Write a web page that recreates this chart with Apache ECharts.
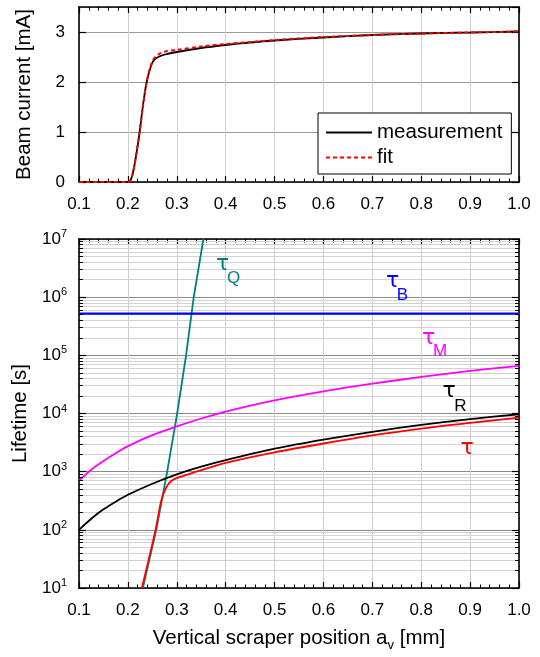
<!DOCTYPE html>
<html>
<head>
<meta charset="utf-8">
<script src="https://cdn.jsdelivr.net/npm/echarts@6/dist/echarts.min.js"></script>
<style>
  html, body { margin: 0; padding: 0; background: #fff; }
  #chart { width: 540px; height: 657px; }
</style>
</head>
<body>
<div id="chart"></div>
<script>
// beam current vs scraper position (top panel)
const currentX = [0.1, 0.15, 0.2, 0.204, 0.21, 0.217, 0.224, 0.231, 0.238, 0.245, 0.252, 0.262, 0.276, 0.3, 0.35, 0.4, 0.45, 0.5, 0.6, 0.7, 0.8, 0.9, 1.0];
const measured = [0, 0, 0, 0.01, 0.17, 0.54, 1.0, 1.54, 1.98, 2.25, 2.42, 2.50, 2.55, 2.60, 2.68, 2.74, 2.79, 2.83, 2.89, 2.94, 2.97, 2.99, 3.01];
const fitted   = [0, 0, 0, 0.01, 0.17, 0.54, 1.0, 1.54, 1.98, 2.27, 2.45, 2.55, 2.61, 2.64, 2.71, 2.76, 2.80, 2.84, 2.90, 2.94, 2.97, 2.99, 3.01];

// lifetimes (bottom panel)
const lifeX = [0.1, 0.125, 0.15, 0.175, 0.2, 0.25, 0.3, 0.35, 0.4, 0.5, 0.6, 0.7, 0.8, 0.9, 1.0];
const tauR = [100, 155, 225, 305, 400, 620, 900, 1220, 1580, 2480, 3550, 4850, 6350, 8000, 9700];
const tauM = [700, 1080, 1520, 2070, 2750, 4250, 6000, 8200, 10800, 16800, 24000, 32500, 42500, 54000, 66000];
const tauBX = [0.1, 1.0];
const tauB = [5.2e5, 5.2e5];
const tauQX = [0.2306, 0.258, 0.2804, 0.3008, 0.319, 0.3347, 0.3545];
const tauQ = [10, 100, 1000, 1e4, 1e5, 1e6, 1e7];
const tauX = [0.2286, 0.2566, 0.268, 0.278, 0.2885, 0.302, 0.32, 0.35, 0.4, 0.5, 0.6, 0.7, 0.8, 0.9, 1.0];
const tau = [10, 100, 310, 525, 690, 790, 880, 1060, 1420, 2150, 3050, 4200, 5500, 6900, 8500];

const decades = [10, 100, 1000, 1e4, 1e5, 1e6];
const minorMults = [2, 3, 4, 5, 6, 7, 8, 9];

const FONT = 'Liberation Sans, Arial, Helvetica, sans-serif';
const GREEK = 'DejaVu Sans, sans-serif';
const pairs = (xs, ys) => xs.map((x, i) => [x, ys[i]]);

const minorVals = [];
decades.forEach(d => minorMults.forEach(m => minorVals.push(m * d)));

const minorGrid = minorVals.map(v => ({ yAxis: v }));
const minorTicks = [];
minorVals.forEach(v => {
  minorTicks.push([{ coord: [0.1, v] }, { coord: [0.108, v] }]);
  minorTicks.push([{ coord: [1.0, v] }, { coord: [0.992, v] }]);
});

const xBase = (grid, pos, labels, split) => ({
  type: 'value', gridIndex: grid, position: pos,
  min: 0.1, max: 1.0, interval: 0.1,
  axisLine: { onZero: false, lineStyle: { color: '#000', width: 1.6 } },
  axisTick: { show: true, inside: true, length: 6, lineStyle: { color: '#000', width: 1.2 } },
  minorTick: { show: true, splitNumber: 5, length: 3.5, lineStyle: { color: '#000', width: 1 } },
  axisLabel: { show: labels, margin: 14, color: '#000', fontSize: 17, fontFamily: FONT,
    formatter: v => v.toFixed(1) },
  splitLine: { show: split, lineStyle: { color: '#cfcfcf', width: 1 } }
});

const label = (x, y, text, color, big) => ({
  type: 'text', x: x, y: y, z: 10,
  style: {
    text: text, fill: color,
    font: big ? '22px ' + GREEK : '17px ' + FONT,
    textAlign: 'center', textVerticalAlign: 'middle'
  }
});

const chart = echarts.init(document.getElementById('chart'), null, { renderer: 'canvas' });

const option = {
  animation: false,
  backgroundColor: '#fff',
  grid: [
    { left: 79, top: 7, width: 440, height: 175 },
    { left: 79, top: 239, width: 440, height: 349 }
  ],
  legend: {
    data: ['measurement', 'fit'],
    orient: 'vertical',
    left: 318, top: 113,
    itemWidth: 46, itemHeight: 16, itemGap: 4,
    padding: [9, 9, 6, 7],
    borderColor: '#000', borderWidth: 1,
    backgroundColor: '#fff',
    itemStyle: { opacity: 0 },
    textStyle: { fontSize: 20.5, fontFamily: FONT, color: '#000' }
  },
  xAxis: [
    xBase(0, 'bottom', true, true),
    xBase(0, 'top', false, false),
    Object.assign(xBase(1, 'bottom', true, true), {
      name: '{n|Vertical scraper position a}{sub|v}{n| [mm]}',
      nameLocation: 'middle', nameGap: 37,
      nameTextStyle: {
        color: '#000',
        rich: {
          n: { fontSize: 20.5, fontFamily: FONT, color: '#000' },
          sub: { fontSize: 13, fontFamily: FONT, color: '#000', padding: [14, 0, 0, 0] }
        }
      }
    }),
    xBase(1, 'top', false, false)
  ],
  yAxis: [
    {
      type: 'value', gridIndex: 0, position: 'left',
      min: 0, max: 3.5, interval: 1,
      name: 'Beam current [mA]', nameLocation: 'middle', nameGap: 44,
      nameTextStyle: { fontSize: 20.5, fontFamily: FONT, color: '#000' },
      axisLine: { lineStyle: { color: '#000', width: 1.6 } },
      axisTick: { show: true, inside: true, length: 7, lineStyle: { color: '#000', width: 1.2 } },
      axisLabel: { margin: 14, color: '#000', fontSize: 17, fontFamily: FONT, showMaxLabel: false },
      splitLine: { show: true, lineStyle: { color: '#9a9a9a', width: 1 } }
    },
    {
      type: 'value', gridIndex: 0, position: 'right',
      min: 0, max: 3.5, interval: 1,
      axisLine: { lineStyle: { color: '#000', width: 1.6 } },
      axisTick: { show: true, inside: true, length: 7, lineStyle: { color: '#000', width: 1.2 } },
      axisLabel: { show: false },
      splitLine: { show: false }
    },
    {
      type: 'log', logBase: 10, gridIndex: 1, position: 'left',
      min: 10, max: 1e7, splitNumber: 6,
      name: 'Lifetime [s]', nameLocation: 'middle', nameGap: 47,
      nameTextStyle: { fontSize: 20.5, fontFamily: FONT, color: '#000' },
      axisLine: { lineStyle: { color: '#000', width: 1.6 } },
      axisTick: { show: true, inside: true, length: 7, lineStyle: { color: '#000', width: 1.2 } },
      axisLabel: {
        margin: 12, color: '#000',
        formatter: v => '{b|10}{s|' + Math.round(Math.log10(v)) + '}',
        rich: {
          b: { fontSize: 17, fontFamily: FONT, color: '#000' },
          s: { fontSize: 11, fontFamily: FONT, color: '#000', padding: [0, 0, 10, 0] }
        }
      },
      splitLine: { show: true, lineStyle: { color: '#8a8a8a', width: 1 } }
    },
    {
      type: 'log', logBase: 10, gridIndex: 1, position: 'right',
      min: 10, max: 1e7, splitNumber: 6,
      axisLine: { lineStyle: { color: '#000', width: 1.6 } },
      axisTick: { show: true, inside: true, length: 7, lineStyle: { color: '#000', width: 1.2 } },
      axisLabel: { show: false },
      splitLine: { show: false }
    }
  ],
  series: [
    {
      name: 'measurement', type: 'line', xAxisIndex: 0, yAxisIndex: 0,
      data: pairs(currentX, measured), showSymbol: false, symbol: 'none', smooth: 0.3,
      lineStyle: { color: '#000', width: 1.8 }, itemStyle: { color: '#000' }
    },
    {
      name: 'fit', type: 'line', xAxisIndex: 0, yAxisIndex: 0,
      data: pairs(currentX, fitted), showSymbol: false, symbol: 'none', smooth: 0.3,
      lineStyle: { color: '#ff0000', width: 2, type: [4, 3] }, itemStyle: { color: '#ff0000' }
    },
    {
      // minor log grid lines, kept under the curves
      name: 'minor', type: 'line', xAxisIndex: 2, yAxisIndex: 2, z: 1,
      data: [[0.5, 1000]], showSymbol: false, symbol: 'none',
      lineStyle: { opacity: 0 },
      markLine: {
        silent: true, symbol: 'none', animation: false, z: 1,
        label: { show: false },
        lineStyle: { color: '#d2d2d2', width: 1, type: 'solid' },
        data: minorGrid
      }
    },
    {
      name: 'minorTicks', type: 'line', xAxisIndex: 2, yAxisIndex: 2, z: 4,
      data: [[0.5, 1000]], showSymbol: false, symbol: 'none',
      lineStyle: { opacity: 0 },
      markLine: {
        silent: true, symbol: 'none', animation: false, z: 4,
        label: { show: false },
        lineStyle: { color: '#000', width: 1, type: 'solid' },
        data: minorTicks
      }
    },
    {
      name: 'tauQ', type: 'line', xAxisIndex: 2, yAxisIndex: 2, z: 3,
      data: pairs(tauQX, tauQ), showSymbol: false, symbol: 'none',
      lineStyle: { color: '#008080', width: 1.8 }
    },
    {
      name: 'tauB', type: 'line', xAxisIndex: 2, yAxisIndex: 2, z: 3,
      data: pairs(tauBX, tauB), showSymbol: false, symbol: 'none',
      lineStyle: { color: '#0000ff', width: 2.2 }
    },
    {
      name: 'tauM', type: 'line', xAxisIndex: 2, yAxisIndex: 2, z: 3,
      data: pairs(lifeX, tauM), showSymbol: false, symbol: 'none', smooth: 0.3,
      lineStyle: { color: '#ff00ff', width: 1.8 }
    },
    {
      name: 'tauR', type: 'line', xAxisIndex: 2, yAxisIndex: 2, z: 3,
      data: pairs(lifeX, tauR), showSymbol: false, symbol: 'none', smooth: 0.3,
      lineStyle: { color: '#000', width: 1.8 }
    },
    {
      name: 'tau', type: 'line', xAxisIndex: 2, yAxisIndex: 2, z: 3,
      data: pairs(tauX, tau), showSymbol: false, symbol: 'none', smooth: 0.3,
      lineStyle: { color: '#ff0000', width: 1.8 }
    }
  ],
  graphic: [
    label(222.5, 264.5, 'τ', '#008080', true),
    label(233.5, 278.5, 'Q', '#008080', false),
    label(392.5, 281.5, 'τ', '#0000ff', true),
    label(402.5, 295, 'B', '#0000ff', false),
    label(428.5, 338, 'τ', '#ff00ff', true),
    label(440, 351, 'M', '#ff00ff', false),
    label(449, 391.5, 'τ', '#000', true),
    label(460.5, 406.5, 'R', '#000', false),
    label(467, 448, 'τ', '#ff0000', true)
  ]
};

chart.setOption(option);
</script>
</body>
</html>
